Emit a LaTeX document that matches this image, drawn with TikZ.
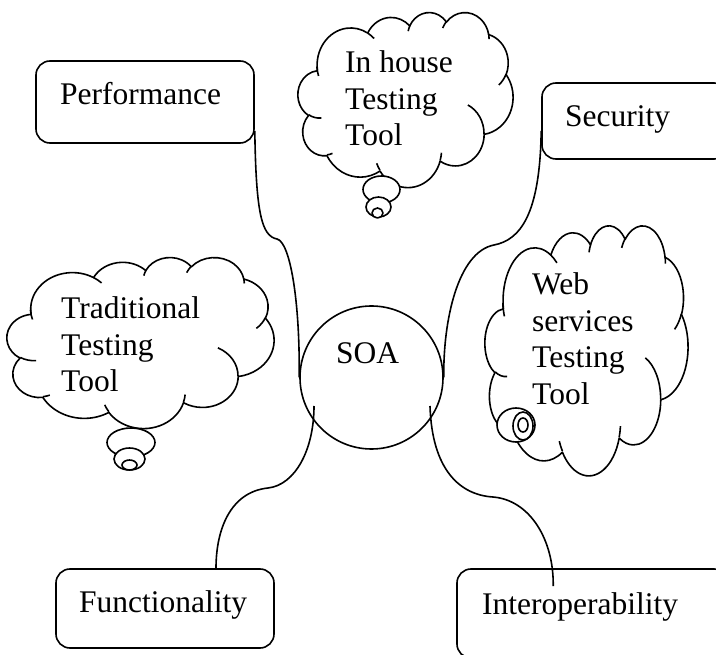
\documentclass[tikz,border=0pt]{standalone}
\usepackage{fontspec}
\setmainfont{Liberation Serif}
\usetikzlibrary{calc}
% arc with DrawingML "visual" angles converted to parametric angles
\newcommand\carc[4]{arc[start angle={atan2((#1)*sin(#3),(#2)*cos(#3))}, delta angle={mod(atan2((#1)*sin((#3)+(#4)),(#2)*cos((#3)+(#4)))-atan2((#1)*sin(#3),(#2)*cos(#3))+720,360)}, x radius=#1, y radius=#2]}
\newcommand\drawcloud[4]{%
\begin{scope}[shift={(#1,#2)}, xscale=#3/432, yscale=#4/432]
\filldraw[lineset, fill=white] (39.00,143.70)
  \carc{67.53}{91.90}{-190.4875}{123.7805}
  \carc{53.33}{72.67}{-144.1024}{89.9452}
  \carc{43.65}{59.45}{-145.8079}{99.7230}
  \carc{48.57}{65.95}{-130.9861}{117.2417}
  \carc{53.33}{72.73}{-78.7089}{109.0269}
  \carc{67.75}{92.20}{-46.2673}{130.2690}
  \carc{57.85}{78.67}{0.6250}{114.0333}
  \carc{67.52}{92.15}{22.4516}{115.1726}
  \carc{77.20}{105.43}{66.2426}{75.7110}
  \carc{43.60}{59.18}{-274.9421}{146.7356}
  \carc{43.45}{59.45}{-246.8285}{152.5189} -- cycle;
\draw[lineset]
  (46.93,261.77) \carc{43.45}{59.45}{86.7420}{26.4295}
  (69.28,348.99) \carc{43.60}{59.18}{73.6105}{11.4475}
  (164.78,390.90) \carc{67.52}{92.15}{137.6242}{14.0811}
  (288.27,347.51) \carc{67.52}{92.15}{6.4533}{15.9984}
  (341.29,229.54) \carc{57.85}{78.67}{-70.2924}{70.9174}
  (417.98,153.54) \carc{53.33}{72.73}{30.3180}{27.7515}
  (383.24,54.26) \carc{48.57}{65.95}{-13.7443}{14.8589}
  (290.78,39.52) \carc{48.57}{65.95}{-149.1815}{18.1954}
  (221.41,47.20) \carc{43.65}{59.45}{-163.4943}{17.6864}
  (140.00,51.92) \carc{67.53}{91.90}{-66.7070}{12.3194}
  (41.27,157.89) \carc{67.53}{91.90}{155.6407}{19.5568};
\end{scope}}
\newcommand\stacklines[1]{\vtop{\baselineskip=36.5pt #1}}
\tikzset{
  lineset/.style={line width=1.6pt, line join=round},
  box/.style={draw, line width=1.6pt, rounded corners=14pt, inner sep=0pt},
  txt/.style={font=\fontsize{31.5}{36.5}\selectfont, inner sep=0pt, anchor=base west},
  bubble/.style={lineset, fill=white},
  conn/.style={line width=1.6pt}
}
\begin{document}
\begin{tikzpicture}[x=1pt, y=-1pt]
\useasboundingbox (0,0) rectangle (716,655);
\clip (0,0) rectangle (716,655);
% clouds
\drawcloud{298}{12}{215}{175}
\drawcloud{7}{257}{267}{171}
\drawcloud{485}{225}{203}{250}
% bubbles
\filldraw[bubble] (381.5,189.5) ellipse [x radius=18.5, y radius=13.5];
\filldraw[bubble] (378.5,207) ellipse [x radius=12.5, y radius=10];
\filldraw[bubble] (377.5,213) ellipse [x radius=5.5, y radius=5];
\filldraw[bubble] (131,442.5) ellipse [x radius=24, y radius=14.5];
\filldraw[bubble] (129.5,459) ellipse [x radius=15.5, y radius=11];
\filldraw[bubble] (129.5,465) ellipse [x radius=7.5, y radius=5];
\filldraw[bubble] (516,425) ellipse [x radius=19, y radius=17];
\filldraw[bubble] (523,426) ellipse [x radius=10, y radius=14];
\filldraw[bubble] (523,425) ellipse [x radius=5, y radius=7];
% boxes
\node[box, minimum width=218pt, minimum height=82pt] (perf) at (145,102) {};
\node[box, minimum width=186pt, minimum height=76pt] (sec) at (635,121) {};
\node[box, minimum width=218pt, minimum height=79pt] (func) at (165,608.5) {};
\node[box, minimum width=271pt, minimum height=89pt] (inter) at (592.5,613.5) {};
\node[draw, circle, line width=1.6pt, minimum size=143pt, inner sep=0pt] (soa) at (371.5,377.5) {};
% texts
\node[txt] (perft) at (60,105) {Performance};
\node[txt] (sect) at (565,127) {Security};
\node[txt] (funct) at (79,612) {Functionality};
\node[txt] (intert) at (482,614) {Interoperability};
\node[txt] (soat) at (336,364) {SOA};
\node[txt] (inhouse) at (345,73) {\stacklines{\hbox{In house}\hbox{Testing}\hbox{Tool}}};
\node[txt] (trad) at (61,319) {\stacklines{\hbox{Traditional}\hbox{Testing}\hbox{Tool}}};
\node[txt] (web) at (532,295) {\stacklines{\hbox{Web}\hbox{services}\hbox{Testing}\hbox{Tool}}};
% connectors
\draw[conn] ([yshift=13pt]perf.south east) .. controls (256,215) and (262,236) .. (277,239)
  .. controls (290,242) and (300,300) .. (soa.west);
\draw[conn] ([yshift=29pt]sec.south west) .. controls (540,215) and (520,240) .. (494,245)
  .. controls (458,252) and (443,320) .. (soa.east);
\draw[conn] ([xshift=-57.5pt,yshift=-28.5pt]soa.center) .. controls (314,450) and (295,485) .. (268,488)
  .. controls (230,492) and (216,530) .. ([xshift=51pt]func.north);
\draw[conn] ([xshift=58.5pt,yshift=-28.5pt]soa.center) .. controls (432,470) and (460,495) .. (493,497)
  .. controls (530,500) and (554,540) .. ([xshift=97pt,yshift=-18pt]inter.north west);
\end{tikzpicture}
\end{document}
